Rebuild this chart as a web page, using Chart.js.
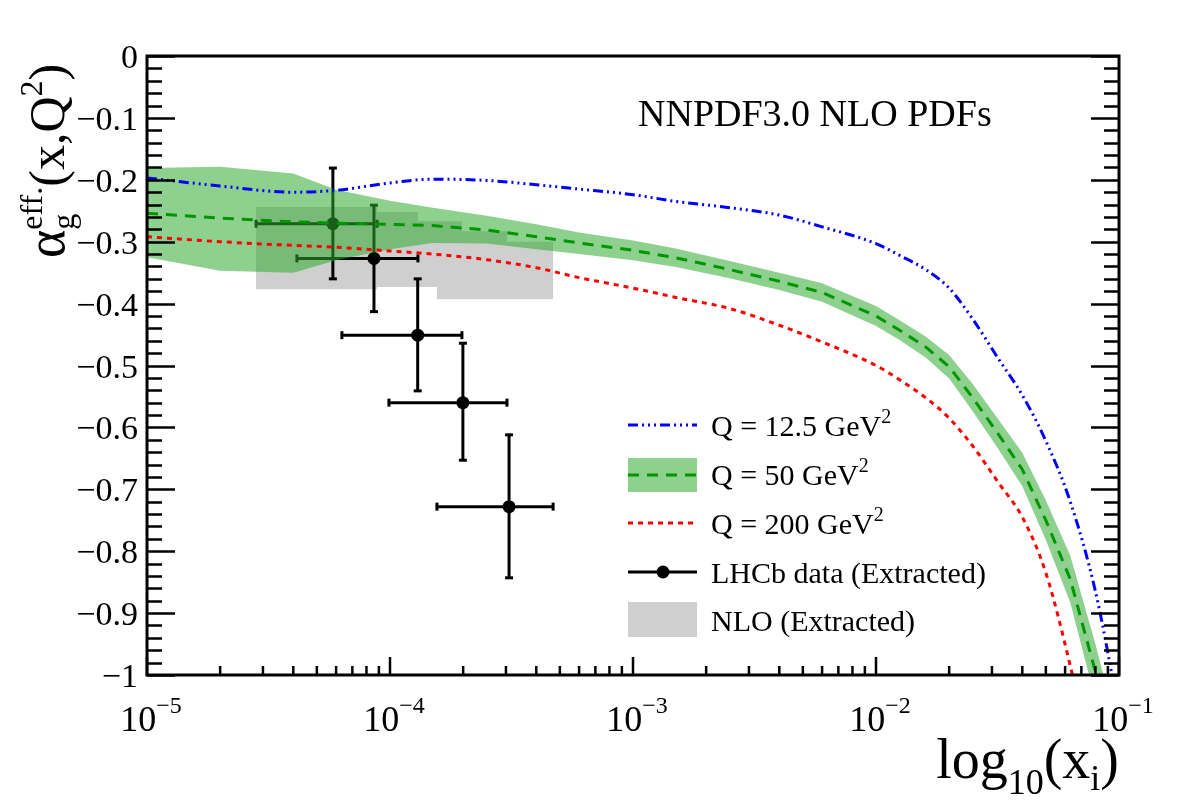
<!DOCTYPE html>
<html>
<head>
<meta charset="utf-8">
<title>alpha_g eff</title>
<script src="https://cdn.jsdelivr.net/npm/chart.js@4.4.1/dist/chart.umd.min.js"></script>
<style>
  html, body { margin: 0; padding: 0; background: #fff; }
</style>
</head>
<body>
<canvas id="myChart" width="1182" height="805"></canvas>
<script>
// x grid of the NNPDF3.0 curves
const xGrid = [1e-5, 2e-5, 4e-5, 6e-5, 1e-4, 1.5e-4, 2.5e-4, 4e-4, 6e-4, 1e-3, 1.5e-3, 2.5e-3, 4e-3, 6e-3,
               1e-2, 1.25e-2, 1.6e-2, 2e-2, 2.5e-2, 3.2e-2, 4e-2, 5e-2, 6.3e-2, 8e-2, 1e-1];

const q125 = [-0.197, -0.210, -0.220, -0.217, -0.205, -0.199, -0.201, -0.208, -0.215, -0.224, -0.235, -0.245, -0.257, -0.276,
              -0.303, -0.322, -0.345, -0.375, -0.425, -0.490, -0.548, -0.622, -0.720, -0.865, -1.06];
const q50 = [-0.254, -0.262, -0.268, -0.270, -0.272, -0.274, -0.281, -0.292, -0.302, -0.314, -0.326, -0.345, -0.364, -0.382,
             -0.420, -0.443, -0.470, -0.502, -0.552, -0.612, -0.668, -0.750, -0.845, -0.995, -1.15];
const q50Hi = [-0.181, -0.179, -0.190, -0.216, -0.234, -0.245, -0.258, -0.272, -0.285, -0.298, -0.311, -0.331, -0.350, -0.367,
               -0.404, -0.427, -0.453, -0.483, -0.530, -0.588, -0.641, -0.718, -0.807, -0.950, -1.10];
const q50Lo = [-0.325, -0.347, -0.350, -0.330, -0.312, -0.302, -0.303, -0.312, -0.320, -0.330, -0.341, -0.359, -0.378, -0.397,
               -0.436, -0.459, -0.487, -0.521, -0.574, -0.636, -0.695, -0.782, -0.883, -1.04, -1.20];
const q200 = [-0.292, -0.300, -0.306, -0.309, -0.315, -0.320, -0.329, -0.342, -0.358, -0.375, -0.390, -0.408, -0.435, -0.462,
              -0.500, -0.523, -0.552, -0.585, -0.630, -0.690, -0.745, -0.835, -0.985, -1.17, -1.35];

// LHCb extracted points
const lhcbX   = [5.82e-5, 8.59e-5, 1.30e-4, 1.995e-4, 3.09e-4];
const lhcbXLo = [2.81e-5, 4.14e-5, 6.34e-5, 9.9e-5, 1.56e-4];
const lhcbXHi = [8.85e-5, 1.303e-4, 1.977e-4, 3.03e-4, 4.69e-4];
const lhcbY   = [-0.271, -0.327, -0.451, -0.560, -0.728];
const lhcbYLo = [-0.360, -0.413, -0.541, -0.653, -0.843];
const lhcbYHi = [-0.181, -0.241, -0.360, -0.464, -0.612];

// NLO extracted boxes
const nloXLo = [2.81e-5, 4.14e-5, 6.34e-5, 9.9e-5, 1.56e-4];
const nloXHi = [8.85e-5, 1.303e-4, 1.977e-4, 3.03e-4, 4.69e-4];
const nloLo  = [-0.377, -0.373, -0.373, -0.373, -0.393];
const nloHi  = [-0.244, -0.252, -0.267, -0.283, -0.300];

// axis ticks
const xTicks = [1e-5, 1e-4, 1e-3, 1e-2, 1e-1];
const xTickExp = ['\u22125', '\u22124', '\u22123', '\u22122', '\u22121'];
const yTicks = [0, -0.1, -0.2, -0.3, -0.4, -0.5, -0.6, -0.7, -0.8, -0.9, -1];
const yTickLabels = ['0', '\u22120.1', '\u22120.2', '\u22120.3', '\u22120.4', '\u22120.5', '\u22120.6', '\u22120.7', '\u22120.8', '\u22120.9', '\u22121'];

const FONT = "'Liberation Serif', 'Times New Roman', serif";
const BAND = 'rgba(50, 170, 50, 0.55)';
const GRAY = '#cfcfcf';
const BLUE_DASH = [10, 4, 2, 4, 2, 4, 2, 4];
const GREEN_DASH = [11, 8];
const RED_DASH = [5, 5];

const pts = (xs, ys) => xs.map((x, i) => ({ x: x, y: ys[i] }));

const datasets = [];

// grey boxes
nloXLo.forEach((xl, i) => {
    datasets.push({
        data: [
            { x: xl, y: nloLo[i] }, { x: nloXHi[i], y: nloLo[i] },
            { x: nloXHi[i], y: nloHi[i] }, { x: xl, y: nloHi[i] }, { x: xl, y: nloLo[i] }
        ],
        borderWidth: 0, pointRadius: 0, fill: 'shape', backgroundColor: GRAY, order: 10
    });
});

// error bars
lhcbX.forEach((x, i) => {
    datasets.push({
        data: [{ x: lhcbXLo[i], y: lhcbY[i] }, { x: lhcbXHi[i], y: lhcbY[i] }],
        borderColor: '#000', borderWidth: 3, pointStyle: 'line', pointRotation: 90, pointRadius: 4,
        pointBorderColor: '#000', pointBorderWidth: 3, fill: false, order: 8
    });
    datasets.push({
        data: [{ x: x, y: lhcbYLo[i] }, { x: x, y: lhcbYHi[i] }],
        borderColor: '#000', borderWidth: 3, pointStyle: 'line', pointRotation: 0, pointRadius: 4,
        pointBorderColor: '#000', pointBorderWidth: 3, fill: false, order: 8
    });
});

// markers
datasets.push({
    data: pts(lhcbX, lhcbY), showLine: false, pointRadius: 6.5, pointBackgroundColor: '#000',
    pointBorderWidth: 0, order: 7
});

// Q = 50 band
datasets.push({
    data: pts(xGrid, q50Hi), borderWidth: 0, pointRadius: 0, fill: false, order: 5
});
datasets.push({
    data: pts(xGrid, q50Lo), borderWidth: 0, pointRadius: 0, fill: '-1', backgroundColor: BAND, order: 5
});

// curves
datasets.push({
    data: pts(xGrid, q200), borderColor: '#ff0000', borderWidth: 3, borderDash: RED_DASH,
    pointRadius: 0, cubicInterpolationMode: 'monotone', fill: false, order: 3
});
datasets.push({
    data: pts(xGrid, q50), borderColor: '#009600', borderWidth: 3, borderDash: GREEN_DASH,
    pointRadius: 0, fill: false, order: 2
});
datasets.push({
    data: pts(xGrid, q125), borderColor: '#0000ff', borderWidth: 3, borderDash: BLUE_DASH,
    pointRadius: 0, cubicInterpolationMode: 'monotone', fill: false, order: 1
});

// draw a run of text pieces: {t, size, dy, stack}
function drawRich(ctx, parts, x, y, align) {
    let total = 0;
    parts.forEach(p => {
        if (p.stack) {
            p.w = Math.max(...p.stack.map(s => { ctx.font = s.size + 'px ' + FONT; return ctx.measureText(s.t).width; }));
        } else {
            ctx.font = p.size + 'px ' + FONT;
            p.w = ctx.measureText(p.t).width;
        }
        total += p.w;
    });
    let cx = align === 'right' ? x - total : (align === 'center' ? x - total / 2 : x);
    parts.forEach(p => {
        const items = p.stack ? p.stack : [p];
        items.forEach(s => {
            ctx.font = s.size + 'px ' + FONT;
            ctx.fillText(s.t, cx, y + (s.dy || 0));
        });
        cx += p.w;
    });
}

const framePlugin = {
    id: 'frame',
    afterDraw(chart) {
        const ctx = chart.ctx;
        const a = chart.chartArea;
        const xs = chart.scales.x, ys = chart.scales.y;
        ctx.save();
        ctx.strokeStyle = '#000';
        ctx.fillStyle = '#000';
        ctx.lineWidth = 3;
        ctx.setLineDash([]);
        ctx.strokeRect(a.left, a.top, a.right - a.left, a.bottom - a.top);

        // y ticks, left and right
        ctx.lineWidth = 2.5;
        for (let k = 0; k <= 50; k++) {
            const v = -k / 50;
            const py = Math.round(ys.getPixelForValue(v)) + 0.5;
            const len = k % 5 === 0 ? 28 : 15;
            ctx.beginPath();
            ctx.moveTo(a.left, py); ctx.lineTo(a.left + len, py);
            ctx.moveTo(a.right, py); ctx.lineTo(a.right - len, py);
            ctx.stroke();
        }
        // x ticks, bottom
        for (let d = -5; d <= -1; d++) {
            for (let m = 1; m <= 9; m++) {
                const v = m * Math.pow(10, d);
                if (v > 0.1 + 1e-12) break;
                const px = xs.getPixelForValue(v);
                const len = m === 1 ? 18 : 9;
                ctx.beginPath();
                ctx.moveTo(px, a.bottom); ctx.lineTo(px, a.bottom - len);
                ctx.stroke();
            }
        }

        // y tick labels
        ctx.textAlign = 'left';
        ctx.textBaseline = 'alphabetic';
        ctx.font = '34px ' + FONT;
        yTicks.forEach((v, i) => {
            const w = ctx.measureText(yTickLabels[i]).width;
            ctx.fillText(yTickLabels[i], 138 - w, ys.getPixelForValue(v) + 12);
        });
        // x tick labels
        xTicks.forEach((v, i) => {
            drawRich(ctx, [{ t: '10', size: 36 }, { t: xTickExp[i], size: 24, dy: -18 }],
                xs.getPixelForValue(v) + 4, 731, 'center');
        });

        // axis titles
        drawRich(ctx, [
            { t: 'log', size: 56 }, { t: '10', size: 36, dy: 16 },
            { t: '(x', size: 56 }, { t: 'i', size: 36, dy: 12 }, { t: ')', size: 56 }
        ], 1119, 778, 'right');

        ctx.save();
        ctx.translate(64, 258);
        ctx.rotate(-Math.PI / 2);
        drawRich(ctx, [
            { t: '\u03b1', size: 54 },
            { stack: [{ t: 'eff.', size: 32, dy: -22 }, { t: 'g', size: 32, dy: 10 }] },
            { t: '(x,Q', size: 50 }, { t: '2', size: 32, dy: -22 }, { t: ')', size: 50 }
        ], 0, 0, 'left');
        ctx.restore();

        // header text
        drawRich(ctx, [{ t: 'NNPDF3.0 NLO PDFs', size: 38 }], 638, 126, 'left');

        // legend
        const lx0 = 628, lx1 = 697, tx = 711;
        ctx.lineWidth = 3;
        ctx.strokeStyle = '#0000ff';
        ctx.setLineDash(BLUE_DASH);
        ctx.beginPath(); ctx.moveTo(lx0, 425); ctx.lineTo(lx1, 425); ctx.stroke();

        ctx.setLineDash([]);
        ctx.fillStyle = BAND;
        ctx.fillRect(lx0, 458, lx1 - lx0, 34);
        ctx.strokeStyle = '#009600';
        ctx.setLineDash(GREEN_DASH);
        ctx.beginPath(); ctx.moveTo(lx0, 475); ctx.lineTo(lx1, 475); ctx.stroke();

        ctx.strokeStyle = '#ff0000';
        ctx.setLineDash(RED_DASH);
        ctx.beginPath(); ctx.moveTo(lx0, 523); ctx.lineTo(lx1, 523); ctx.stroke();

        ctx.setLineDash([]);
        ctx.strokeStyle = '#000';
        ctx.beginPath(); ctx.moveTo(lx0, 572); ctx.lineTo(lx1, 572); ctx.stroke();
        ctx.fillStyle = '#000';
        ctx.beginPath(); ctx.arc(663, 572, 6.5, 0, 2 * Math.PI); ctx.fill();

        ctx.fillStyle = GRAY;
        ctx.fillRect(lx0, 602, lx1 - lx0, 35);

        ctx.fillStyle = '#000';
        drawRich(ctx, [{ t: 'Q = 12.5 GeV', size: 30 }, { t: '2', size: 20, dy: -13 }], tx, 436, 'left');
        drawRich(ctx, [{ t: 'Q = 50 GeV', size: 30 }, { t: '2', size: 20, dy: -13 }], tx, 485, 'left');
        drawRich(ctx, [{ t: 'Q = 200 GeV', size: 30 }, { t: '2', size: 20, dy: -13 }], tx, 534, 'left');
        drawRich(ctx, [{ t: 'LHCb data (Extracted)', size: 30 }], tx, 583, 'left');
        drawRich(ctx, [{ t: 'NLO (Extracted)', size: 30 }], tx, 631, 'left');
        ctx.restore();
    }
};

new Chart(document.getElementById('myChart'), {
    type: 'line',
    data: { datasets: datasets },
    options: {
        responsive: false,
        animation: false,
        devicePixelRatio: 1,
        layout: { padding: { left: 147, right: 63, top: 56, bottom: 130 } },
        plugins: { legend: { display: false }, tooltip: { enabled: false } },
        scales: {
            x: { type: 'logarithmic', min: 1e-5, max: 1e-1, display: false },
            y: { type: 'linear', min: -1, max: 0, display: false }
        }
    },
    plugins: [framePlugin]
});
</script>
</body>
</html>
